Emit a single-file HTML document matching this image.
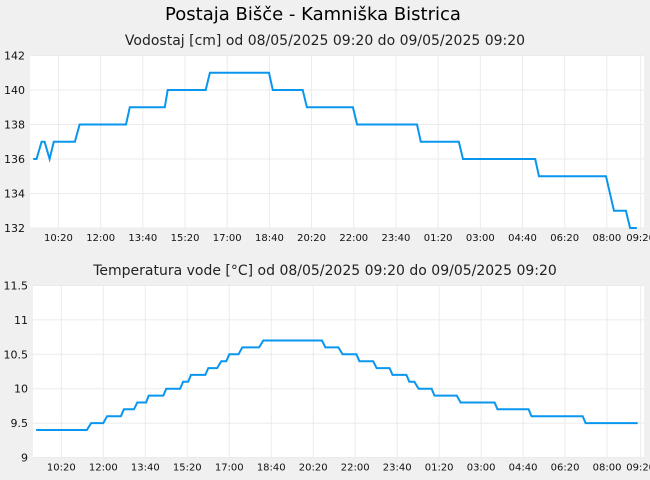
<!DOCTYPE html>
<html><head><meta charset="utf-8"><style>
html,body{margin:0;padding:0;background:#f0f0f0;}
svg{display:block;font-family:"DejaVu Sans","Liberation Sans",sans-serif;}
</style></head><body>
<svg id="c" width="650" height="480" viewBox="0 0 650 480">
<rect width="650" height="480" fill="#f0f0f0"/>
<text x="313" y="20" font-size="18" text-anchor="middle" fill="#000">Postaja Bišče - Kamniška Bistrica</text>
<text x="325" y="45" font-size="14" text-anchor="middle" fill="#222">Vodostaj [cm] od 08/05/2025 09:20 do 09/05/2025 09:20</text>
<text x="325" y="275" font-size="14" text-anchor="middle" fill="#222">Temperatura vode [°C] od 08/05/2025 09:20 do 09/05/2025 09:20</text>
</svg>
<script>
// minutes since 08/05/2025 09:20
const xTickMinutes=[60,160,260,360,460,560,660,760,860,960,1060,1160,1260,1360,1440];
const xTickLabels=["10:20","12:00","13:40","15:20","17:00","18:40","20:20","22:00","23:40","01:20","03:00","04:40","06:20","08:00","09:20"];
const levelTicks=[132,134,136,138,140,142];
const levelTimes=[0,8,20,27,39,49,99,110,220,229,312,319,409,419,559,568,639,649,758,768,910,919,1009,1019,1190,1199,1358,1377,1405,1415,1431];
const levelValues=[136,136,137,137,136,137,137,138,138,139,139,140,140,141,141,140,140,139,139,138,138,137,137,136,136,135,135,133,133,132,132];
const tempTicks=[9,9.5,10,10.5,11,11.5];
const tempTickLabels=["9","9.5","10","10.5","11","11.5"];
const tempTimes=[0,121,131,160,169,202,209,233,241,262,268,303,310,343,350,362,369,403,410,431,441,453,460,482,491,531,541,681,689,720,730,763,770,803,811,842,849,882,889,901,911,942,949,1002,1011,1092,1099,1173,1180,1302,1309,1433];
const tempValues=[9.4,9.4,9.5,9.5,9.6,9.6,9.7,9.7,9.8,9.8,9.9,9.9,10.0,10.0,10.1,10.1,10.2,10.2,10.3,10.3,10.4,10.4,10.5,10.5,10.6,10.6,10.7,10.7,10.6,10.6,10.5,10.5,10.4,10.4,10.3,10.3,10.2,10.2,10.1,10.1,10.0,10.0,9.9,9.9,9.8,9.8,9.7,9.7,9.6,9.6,9.5,9.5];

const NS="http://www.w3.org/2000/svg";
const svg=document.getElementById('c');
function mk(tag,attrs,parent){const e=document.createElementNS(NS,tag);for(const k in attrs)e.setAttribute(k,attrs[k]);(parent||svg).appendChild(e);return e;}

function panel(cfg){
  const g=mk('g',{});
  
  
  const tMin=-7.5,tMax=1448;
  const xs=t=>cfg.left+(t-tMin)/(tMax-tMin)*(cfg.right-cfg.left);
  const ys=v=>cfg.bottom-(v-cfg.vmin)/(cfg.vmax-cfg.vmin)*(cfg.bottom-cfg.top);
  const bg=mk('rect',{x:cfg.left,y:cfg.top,width:cfg.right-cfg.left,height:cfg.bottom-cfg.top,fill:'#fff'},g);
  
  
  cfg.yticks.forEach((v,i)=>{
    const y=ys(v);
    const l=mk('line',{x1:cfg.left,x2:cfg.right,y1:y,y2:y,stroke:'#ebebeb','stroke-width':1},g);
    
    
    const t=mk('text',{x:cfg.left-5,y:y+4,'font-size':11,'text-anchor':'end',fill:'#111'},g);
    
    
    t.textContent=cfg.ylabels[i];
  });
  xTickMinutes.forEach((m,i)=>{
    const x=xs(m);
    const l=mk('line',{x1:x,x2:x,y1:cfg.top,y2:cfg.bottom,stroke:'#ebebeb','stroke-width':1},g);
    
    
    const t=mk('text',{x:x,y:cfg.bottom+13,'font-size':10,'text-anchor':'middle',fill:'#111'},g);
    
    
    t.textContent=xTickLabels[i];
  });
  const pts=cfg.times.map((t,i)=>xs(t).toFixed(1)+','+ys(cfg.values[i]).toFixed(1)).join(' ');
  const p=mk('polyline',{points:pts,fill:'none',stroke:'#0996ef','stroke-width':2,'stroke-linejoin':'miter'},g);
  
  
}
panel({name:'water-level-chart',series:'water-level-line',left:30,right:644,top:55.5,bottom:228,vmin:132,vmax:142,yticks:levelTicks,ylabels:levelTicks.map(String),times:levelTimes,values:levelValues});
panel({name:'water-temperature-chart',series:'water-temperature-line',left:33,right:644,top:285.5,bottom:457.5,vmin:9,vmax:11.5,yticks:tempTicks,ylabels:tempTickLabels,times:tempTimes,values:tempValues});
</script>
</body></html>
